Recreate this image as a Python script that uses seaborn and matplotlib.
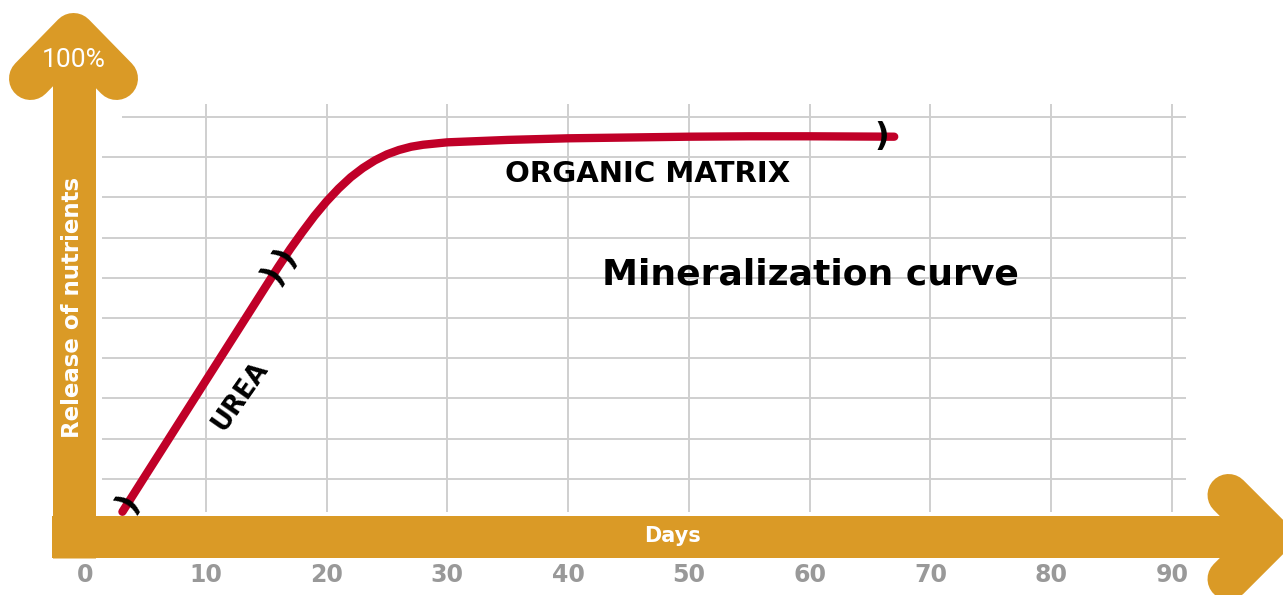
import numpy as np
import seaborn as sns
import matplotlib.pyplot as plt

# dados (dias x % de nutrientes liberados)
days = [3.1, 5, 7.5, 10, 12.5, 15, 16, 17, 18, 19, 20, 21, 22, 23, 24, 25,
        26, 27, 28, 29, 30, 35, 40, 45, 50, 55, 60, 67]
release = [1.8, 10.8, 22.6, 34.4, 46.2, 58.0, 62.7, 67.2, 71.4, 75.4, 79.0,
           82.2, 85.0, 87.3, 89.2, 90.7, 91.8, 92.6, 93.1, 93.4, 93.7, 94.3,
           94.7, 94.9, 95.1, 95.2, 95.2, 95.1]
x_ticks = [0, 10, 20, 30, 40, 50, 60, 70, 80, 90]
y_grid = [10, 20, 30, 40, 50, 60, 70, 80, 90, 100]
mark_days = [3.6, 15.6, 16.6, 66.0]

ORANGE = "#DA9A26"
RED = "#C00028"
GRID = "#CFCFCF"
W, H = 1283, 595

sns.set_style("white")
plt.rcParams["font.family"] = ["DejaVu Sans"]

fig = plt.figure(figsize=(W / 100, H / 100), dpi=100)
ax = fig.add_axes([85 / W, (H - 519) / H, (1172 - 85) / W, (519 - 117) / H])
ax.set_xlim(0, 90)
ax.set_ylim(0, 100)
ax.axis("off")


def px(x, y):
    return x / W, 1 - y / H


def fig_line(pts, lw_px, **kw):
    xs, ys = zip(*[px(*p) for p in pts])
    ax.plot(xs, ys, transform=fig.transFigure, clip_on=False, color=ORANGE,
            lw=lw_px * 0.72, zorder=3, **kw)


# grade
ax.vlines(x_ticks[1:], 1.7, 103.3, color=GRID, lw=1.4, zorder=1, clip_on=False)
ax.hlines(y_grid[:-1], 1.4, 91.2, color=GRID, lw=1.4, zorder=1, clip_on=False)
ax.hlines(y_grid[-1:], 3.1, 91.2, color=GRID, lw=1.4, zorder=1, clip_on=False)

# setas dos eixos
fig_line([(73.5, 558), (73.5, 45)], 43, solid_capstyle="butt")
fig_line([(30.5, 78.5), (73.5, 34.5), (116.5, 78.5)], 43,
         solid_capstyle="round", solid_joinstyle="round")
fig_line([(52, 537), (1262, 537)], 42, solid_capstyle="butt")
fig_line([(1228.5, 495), (1270.5, 537), (1228.5, 579)], 42,
         solid_capstyle="round", solid_joinstyle="round")

# curva
sns.lineplot(x=days, y=release, ax=ax, color=RED, linewidth=6, sort=False,
             solid_capstyle="round", solid_joinstyle="round", zorder=5,
             clip_on=False)

# marcas sobre a curva
fig.canvas.draw()
for d in mark_days:
    yv = np.interp(d, days, release)
    p0 = ax.transData.transform((d - 0.3, np.interp(d - 0.3, days, release)))
    p1 = ax.transData.transform((d + 0.3, np.interp(d + 0.3, days, release)))
    ang = np.degrees(np.arctan2(p1[1] - p0[1], p1[0] - p0[0]))
    ax.text(d, yv, ")", fontsize=23, fontweight="bold", ha="center",
            va="center", rotation=ang, rotation_mode="anchor", color="black",
            zorder=6)

# rótulos dos ticks
for t in x_ticks:
    ax.text(t, -13.9, str(t), ha="center", va="center", fontsize=17,
            fontweight="bold", color="#999999", clip_on=False)

# textos
fig.text(*px(74, 60), "100%", ha="center", va="center", fontsize=19,
         color="white", family="Roboto", zorder=10)
fig.text(*px(73, 307), "Release of nutrients", ha="center", va="center",
         rotation=90, fontsize=16.5, fontweight="bold", color="white", zorder=10)
fig.text(*px(672, 536), "Days", ha="center", va="center", fontsize=15,
         fontweight="bold", color="white", zorder=10)
ax.text(46.6, 85.7, "ORGANIC MATRIX", ha="center", va="center", fontsize=21,
        fontweight="bold", color="black")
ax.text(60.1, 60.8, "Mineralization curve", ha="center", va="center",
        fontsize=26, fontweight="bold", color="black")
ax.text(12.9, 30.7, "UREA", ha="center", va="center", rotation=55,
        fontsize=18.5, fontweight="bold", color="black")

fig.savefig("out.png", dpi=100)
